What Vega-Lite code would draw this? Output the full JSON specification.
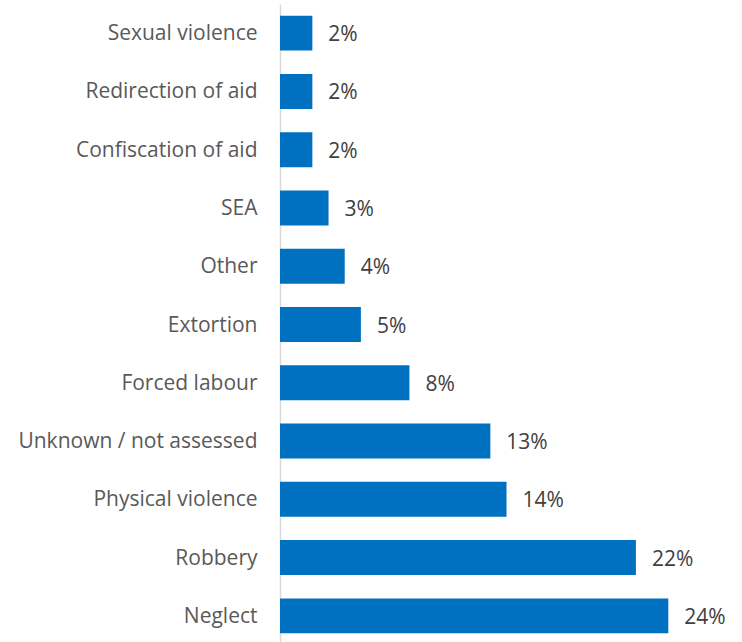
{
  "$schema": "https://vega.github.io/schema/vega-lite/v6.json",
  "autosize": {"type": "none"},
  "padding": {"left": 280, "top": 4, "right": 0, "bottom": 0},
  "width": 453,
  "height": 641,
  "background": "white",
  "config": {"view": {"stroke": null}, "font": "Open Sans"},
  "data": {"values": [
    {"category": "Sexual violence", "value": 0.02},
    {"category": "Redirection of aid", "value": 0.02},
    {"category": "Confiscation of aid", "value": 0.02},
    {"category": "SEA", "value": 0.03},
    {"category": "Other", "value": 0.04},
    {"category": "Extortion", "value": 0.05},
    {"category": "Forced labour", "value": 0.08},
    {"category": "Unknown / not assessed", "value": 0.13},
    {"category": "Physical violence", "value": 0.14},
    {"category": "Robbery", "value": 0.22},
    {"category": "Neglect", "value": 0.24}
  ]},
  "encoding": {
    "y": {"field": "category", "type": "nominal", "sort": null,
      "scale": {"paddingInner": 0.4, "paddingOuter": 0.2},
      "axis": {"title": null, "ticks": false, "domainColor": "#d9d9d9", "domainWidth": 1.5,
        "labelFontSize": 21, "labelColor": "#595959", "labelPadding": 23, "labelOffset": 1, "labelFont": "Open Sans", "labelLimit": 300}},
    "x": {"field": "value", "type": "quantitative", "scale": {"domain": [0, 0.28]}, "axis": null}
  },
  "layer": [
    {"mark": {"type": "bar", "color": "#0070C0"}},
    {"mark": {"type": "text", "align": "left", "baseline": "middle", "dx": 16, "dy": 2, "fontSize": 21, "color": "#404040", "font": "Open Sans"},
     "encoding": {"text": {"field": "value", "type": "quantitative", "format": ".0%"}}}
  ]
}
